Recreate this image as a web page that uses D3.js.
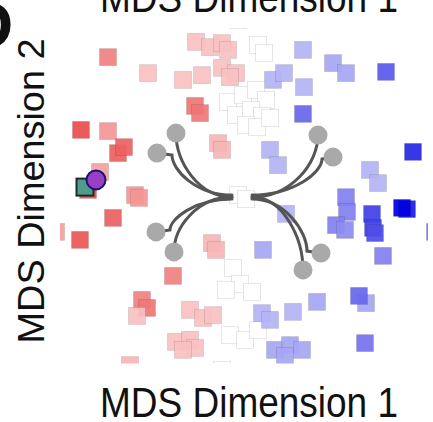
<!DOCTYPE html>
<html>
<head>
<meta charset="utf-8">
<script src="https://cdn.jsdelivr.net/npm/d3@7"></script>
<style>
  body { margin: 0; background: #fff; }
  svg { display: block; }
  text { font-family: "Liberation Sans", Arial, Helvetica, sans-serif; fill: #111; }
</style>
</head>
<body>
<svg id="chart" width="433" height="422"></svg>
<script>
// MDS coordinates of each sample (dimension 1, dimension 2) and its shading value
// (-1 = strongly red class, 0 = neutral, +1 = strongly blue class).
const sampleDim1 = [
  -34, -24, -15.25, -10.5, -12, -8.5, -5.5, -4, -5.5, -2, -3.5, 3.5, 5, 14.75, 7.25, 10,
  22.25, 25.5, 35.5, 15, 14.75,
  -4, -0.25, 3, 5.5, -2, 1.75, 4.5, 0.5, 3.25, 6.5,
  -12.25, -11,
  -40.75, -34, -31.5, -30, -36, -39, -27.25, -26.25, -32.75, -41, -47,
  -6.5, -5.5, 6.5, 8.5, -1.5, 0.5, 10.5, -8, -7, 4.75, -17.75,
  -2.75, -1, -4.5, 2,
  42.25, 31.5, 33.5, 25.5, 25.75, 23, 25.25, 32, 32.25, 32.75, 40.75, 39.5, 47.75, 34.75,
  -25.5, -24.25, -26.75, -13.5, -10.25, -7.75, -17, -13.5, -12.25, -15.25,
  -3.5, 0.25, 3.5, -28.5, -5.5, -1.5,
  4.5, 6.5, 12.25, 18.25, 30.5, 28.75, 30.25, 7.75, 11.5, 14.5, 10.25
];
const sampleDim2 = [
  34.6, 30.6, 28.9, 30.1, 38.4, 37.1, 38.1, 36.4, 31.9, 30.6, 29.6, 37.6, 35.6, 36.4, 28.9, 30.6,
  33.1, 30.6, 30.9, 27.1, 20.4,
  23.4, 25.1, 26.4, 23.9, 20.1, 21.4, 19.9, 17.6, 17.1, 19.4,
  22.4, 20.6,
  16.4, 16.1, 10.6, 12.1, 5.9, 1.4, 0.1, -0.6, -5.6, -11.1, -9.1,
  13.1, 11.4, 11.4, 7.6, 0.1, -0.9, -4.6, -11.9, -13.6, -13.6, -20.1,
  -18.1, -22.1, -23.6, -24.1,
  10.9, 6.4, 3.1, -0.4, -4.1, -7.4, -8.6, -4.6, -8.1, -9.4, -3.4, -3.1, -9.1, -15.1,
  -26.1, -28.1, -30.1, -28.6, -30.6, -29.9, -36.6, -36.1, -38.1, -38.6,
  -34.9, -36.1, -33.6, -42.4, -43.6, 43.9,
  -29.4, -31.1, -29.1, -26.6, -26.9, -25.1, -36.9, -38.6, -37.4, -38.6, -40.1
];
const sampleShade = [
  -0.6, -0.3, -0.3, -0.3, -0.3, -0.3, -0.3, -0.3, -0.3, -0.3, -0.3, 0, 0, 0.3, 0.3, 0.3,
  0.35, 0.35, 0.65, 0.3, 0.6,
  0, 0, 0, 0, 0, 0, 0, 0, 0, 0,
  -0.65, -0.65,
  -0.85, -0.5, -0.75, -0.75, -0.45, -0.85, -0.5, -0.5, -0.75, -0.8, -0.45,
  -0.35, -0.35, 0.3, 0.3, 0, 0, 0.3, -0.35, -0.35, 0.35, -0.6,
  0, 0, 0, 0,
  0.85, 0.3, 0.3, 0.5, 0.5, 0.5, 0.45, 0.75, 0.75, 0.7, 0.9, 1.0, 0.55, 0.5,
  -0.6, -0.65, -0.3, -0.3, -0.3, -0.3, -0.3, -0.3, -0.3, -0.3,
  0, 0, 0, -0.35, 0, 0,
  0.3, 0.3, 0.3, 0.35, 0.35, 0.6, 0.55, 0.35, 0.35, 0.35, 0.35
];

// Prototype nodes joined to the central hub, listed as pairs per branch.
const nodeDim1 = [-17, -21.75, -22, -17.5, 18.5, 22.25, 19.25, 14.75];
const nodeDim2 = [15.6, 10.6, -9.1, -14.1, 15.1, 9.6, -14.4, -18.6];
const nodeBranch = [0, 0, 1, 1, 2, 2, 3, 3];
const hubDim1 = -0.5;
const hubDim2 = -0.4;

// Highlighted query sample and its matched point.
const querySquare = { dim1: -39.75, dim2: 2.1 };
const queryCircle = { dim1: -37, dim2: 3.9 };

const axisLabel = "MDS Dimension 1";
const axisLabelY = "MDS Dimension 2";
const panelLabel = "D";

const svg = d3.select("#chart");

const x = d3.scaleLinear().domain([-46, 46]).range([60, 428]);
const y = d3.scaleLinear().domain([-42, 42]).range([363.5, 27.5]);

const color = d3.scaleLinear()
  .domain([-1, 0, 1])
  .range(["#e62c2c", "#ffffff", "#0000de"])
  .interpolate(d3.interpolateRgb);

svg.append("defs").append("clipPath").attr("id", "plot-clip")
  .append("rect")
  .attr("x", x.range()[0]).attr("y", y.range()[1])
  .attr("width", x.range()[1] - x.range()[0])
  .attr("height", y.range()[0] - y.range()[1]);

const plot = svg.append("g").attr("clip-path", "url(#plot-clip)");

const side = 17;
const samples = sampleDim1.map((d, i) => ({ d1: d, d2: sampleDim2[i], v: sampleShade[i] }));

plot.append("g").selectAll("rect")
  .data(samples)
  .join("rect")
  .attr("x", d => x(d.d1) - side / 2)
  .attr("y", d => y(d.d2) - side / 2)
  .attr("width", side)
  .attr("height", side)
  .attr("fill", d => color(d.v))
  .attr("fill-opacity", 0.92)
  .attr("stroke", "#000")
  .attr("stroke-opacity", 0.1)
  .attr("stroke-width", 1);

// Curved connectors: each branch has a trunk running to its farther node,
// and a second strand that peels off to the nearer node.
const nodes = nodeDim1.map((d, i) => ({ px: x(d), py: y(nodeDim2[i]), branch: nodeBranch[i] }));
const hx = x(hubDim1), hy = y(hubDim2);

function connector(node, trunk) {
  const dir = Math.sign(node.px - hx);
  const sx = hx + dir * 10;
  const p = d3.path();
  if (node === trunk) {
    p.moveTo(sx, hy);
    p.bezierCurveTo(sx + (trunk.px - sx) * 0.6, hy,
                    trunk.px, hy + (trunk.py - hy) * 0.55,
                    trunk.px, trunk.py);
  } else {
    const tx = trunk.px + dir * 4;
    const sy = hy + Math.sign(node.py - hy) * 2;
    p.moveTo(sx, sy);
    p.bezierCurveTo(sx + (tx - sx) * 0.6, sy,
                    tx, sy + (node.py - sy) * 0.6,
                    tx, node.py + Math.sign(hy - node.py) * 2);
    p.lineTo(node.px, node.py);
  }
  return p.toString();
}

const links = [];
d3.groups(nodes, n => n.branch).forEach(([, pair]) => {
  const trunk = pair.reduce((a, b) => Math.abs(a.py - hy) >= Math.abs(b.py - hy) ? a : b);
  pair.forEach(n => links.push({ node: n, trunk }));
});

plot.append("g").selectAll("path")
  .data(links)
  .join("path")
  .attr("d", d => connector(d.node, d.trunk))
  .attr("fill", "none")
  .attr("stroke", "#555")
  .attr("stroke-width", 3)
  .attr("stroke-linecap", "round");

plot.append("g").selectAll("circle")
  .data(nodes)
  .join("circle")
  .attr("cx", d => d.px)
  .attr("cy", d => d.py)
  .attr("r", 9.5)
  .attr("fill", "#a9a9a9");

plot.append("rect")
  .attr("x", x(querySquare.dim1) - side / 2)
  .attr("y", y(querySquare.dim2) - side / 2)
  .attr("width", side)
  .attr("height", side)
  .attr("fill", "#4f9c8c")
  .attr("stroke", "#1d2a28")
  .attr("stroke-width", 2);

plot.append("circle")
  .attr("cx", x(queryCircle.dim1))
  .attr("cy", y(queryCircle.dim2))
  .attr("r", 9.5)
  .attr("fill", "#9a3ec4")
  .attr("stroke", "#16166e")
  .attr("stroke-width", 2);

// Axis titles (the one at the top belongs to the panel above).
svg.append("text")
  .attr("x", 100).attr("y", 12)
  .attr("font-size", 43)
  .attr("textLength", 298).attr("lengthAdjust", "spacingAndGlyphs")
  .text(axisLabel);

svg.append("text")
  .attr("x", 100).attr("y", 417)
  .attr("font-size", 43)
  .attr("textLength", 298).attr("lengthAdjust", "spacingAndGlyphs")
  .text(axisLabel);

svg.append("text")
  .attr("transform", "translate(44,191) rotate(-90)")
  .attr("text-anchor", "middle")
  .attr("font-size", 37)
  .attr("textLength", 305).attr("lengthAdjust", "spacingAndGlyphs")
  .text(axisLabelY);

svg.append("text")
  .attr("x", -35).attr("y", 48)
  .attr("font-size", 67)
  .attr("font-weight", "bold")
  .text(panelLabel);
</script>
</body>
</html>
